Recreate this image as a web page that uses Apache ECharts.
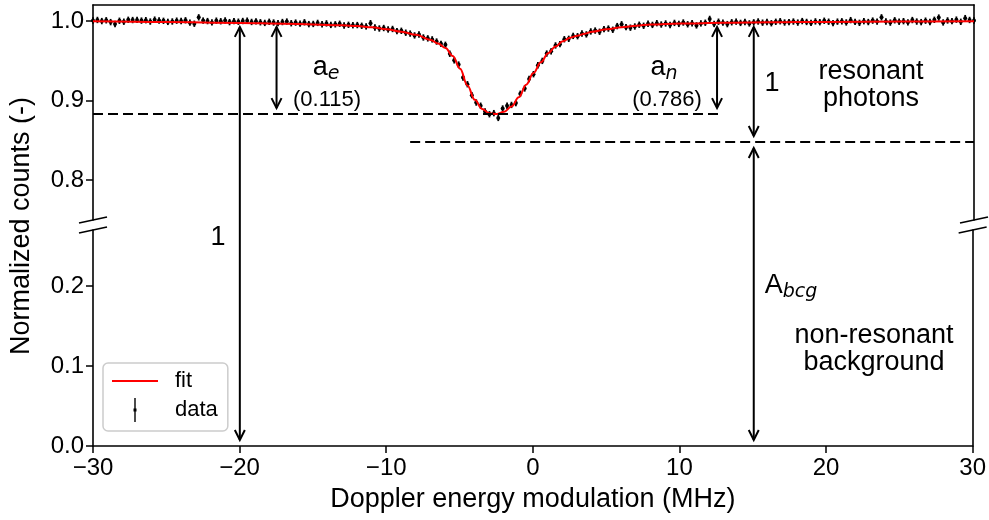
<!DOCTYPE html>
<html>
<head>
<meta charset="utf-8">
<script src="https://cdn.jsdelivr.net/npm/echarts@6/dist/echarts.min.js"></script>
<style>
html, body { margin: 0; padding: 0; background: #fff; }
#main { width: 989px; height: 520px; }
</style>
</head>
<body>
<div id="main"></div>
<script>
var FONT = 'Liberation Sans, Arial, sans-serif';
var MATH = 'DejaVu Sans, sans-serif';

// measured points, x = dataStart + i * dataStep
var dataStart = -30, dataStep = 0.3;
var dataErr = 0.004;
var dataY = [
	1.0005, 1.0012, 0.9998, 1.0008, 0.9985, 0.9962, 1.0002, 0.9990, 1.0014, 1.0011,
	1.0013, 1.0004, 1.0009, 0.9992, 1.0016, 1.0005, 1.0001, 0.9988, 0.9993, 1.0003,
	0.9999, 1.0008, 0.9978, 0.9965, 1.0045, 1.0004, 0.9998, 0.9981, 1.0003, 0.9996,
	1.0006, 0.9985, 0.9997, 0.9990, 0.9999, 1.0003, 0.9987, 0.9995, 0.9983, 0.9975,
	0.9989, 0.9980, 0.9972, 0.9986, 0.9992, 0.9971, 0.9979, 0.9966, 0.9983, 0.9960,
	0.9962, 0.9975, 0.9958, 0.9969, 0.9950, 0.9957, 0.9964, 0.9942, 0.9951, 0.9946,
	0.9948, 0.9939, 0.9931, 0.9972, 0.9918, 0.9905, 0.9911, 0.9893, 0.9899, 0.9872,
	0.9876, 0.9852, 0.9841, 0.9818, 0.9829, 0.9792, 0.9781, 0.9768, 0.9741, 0.9712,
	0.9700, 0.9588, 0.9505, 0.9452, 0.9290, 0.9205, 0.9068, 0.8975, 0.8935, 0.8862,
	0.8828, 0.8842, 0.8782, 0.8900, 0.8935, 0.8945, 0.8968, 0.9085, 0.9152, 0.9270,
	0.9331, 0.9443, 0.9498, 0.9590, 0.9618, 0.9692, 0.9708, 0.9770, 0.9775, 0.9812,
	0.9808, 0.9842, 0.9831, 0.9868, 0.9879, 0.9864, 0.9897, 0.9904, 0.9889, 0.9935,
	0.9958, 0.9922, 0.9915, 0.9930, 0.9952, 0.9939, 0.9965, 0.9950, 0.9972, 0.9955,
	0.9968, 0.9949, 0.9975, 0.9963, 0.9980, 0.9958, 0.9971, 0.9944, 0.9969, 0.9977,
	1.0025, 0.9962, 0.9990, 0.9978, 0.9960, 0.9983, 0.9991, 0.9975, 0.9986, 0.9969,
	0.9982, 0.9993, 0.9978, 0.9987, 0.9971, 0.9989, 0.9996, 0.9980, 0.9985, 0.9992,
	0.9979, 0.9998, 0.9987, 0.9975, 0.9994, 0.9984, 1.0002, 0.9990, 0.9973, 0.9991,
	0.9995, 0.9981, 1.0010, 0.9988, 0.9976, 0.9997, 0.9986, 1.0004, 0.9992, 1.0045,
	0.9993, 0.9979, 1.0008, 0.9990, 0.9997, 0.9982, 1.0011, 0.9992, 0.9985, 1.0003,
	0.9987, 1.0014, 1.0042, 0.9981, 1.0006, 0.9997, 1.0016, 0.9989, 1.0035, 1.0012, 1.0006
];

// fitted curve
var fitX = [-30, -25, -20, -17, -15, -13, -12, -11, -10, -9,
	-8, -7, -6.5, -6, -5.5, -5, -4.5, -4, -3.5, -3,
	-2.5, -2, -1.5, -1, -0.5, 0, 0.5, 1, 1.5, 2,
	2.5, 3, 3.5, 4, 5, 6, 7, 8, 10, 13,
	16, 20, 25, 30];
var fitY = [0.9995, 0.9985, 0.9975, 0.9965, 0.9955, 0.9945, 0.9935, 0.9920, 0.9895, 0.9865,
	0.9825, 0.9760, 0.9715, 0.9660, 0.9560, 0.9400, 0.9190, 0.9010, 0.8895, 0.8840,
	0.8830, 0.8860, 0.8925, 0.9040, 0.9200, 0.9345, 0.9480, 0.9595, 0.9680, 0.9745,
	0.9790, 0.9815, 0.9840, 0.9865, 0.9895, 0.9920, 0.9940, 0.9955, 0.9968, 0.9976,
	0.9982, 0.9988, 0.9993, 0.9996];

var yTicksTop = [0.8, 0.9, 1.0];
var yTicksBottom = [0, 0.1, 0.2];

// annotations in data units
var dashLines = [[-30, 12.6, 0.883], [-8.4, 30, 0.848]]; // xFrom, xTo, y
var arrows = [[-20, 1.0, 0.0], [-17.5, 1.0, 0.883], [12.5, 1.0, 0.883], [15, 1.0, 0.848], [15, 0.848, 0.0]];

var dataPts = [];
for(var i = 0; i < dataY.length; i++) {
	dataPts.push([dataStart + i * dataStep, dataY[i]]);
}
var fitPts = [];
for(var j = 0; j < fitX.length; j++) {
	fitPts.push([fitX[j], fitY[j]]);
}

function renderErr(params, api) {
	var x = api.value(0), y = api.value(1);
	var top = api.coord([x, y + dataErr]);
	var bot = api.coord([x, y - dataErr]);
	var c = api.coord([x, y]);
	return {
		type: 'group',
		children: [{
			type: 'line',
			shape: { x1: top[0], y1: top[1], x2: bot[0], y2: bot[1] },
			style: { stroke: '#000', lineWidth: 1.8 }
		}, {
			type: 'circle',
			shape: { cx: c[0], cy: c[1], r: 2 },
			style: { fill: '#000' }
		}]
	};
}

function yAxisLeft(grid, min, max, ticks) {
	return {
		type: 'value', gridIndex: grid, position: 'left', min: min, max: max,
		axisLine: { show: true, onZero: false, lineStyle: { color: '#000', width: 1.6 } },
		axisTick: { show: true, length: 7, customValues: ticks, lineStyle: { color: '#000', width: 1.5 } },
		axisLabel: {
			customValues: ticks, margin: 9, color: '#000', fontSize: 24, fontFamily: FONT,
			formatter: function(v) { return v.toFixed(1); }
		},
		splitLine: { show: false }
	};
}

function yAxisRight(grid, min, max) {
	return {
		type: 'value', gridIndex: grid, position: 'right', min: min, max: max,
		axisLine: { show: true, onZero: false, lineStyle: { color: '#000', width: 1.6 } },
		axisTick: { show: false }, axisLabel: { show: false }, splitLine: { show: false }
	};
}

var chart = echarts.init(document.getElementById('main'));
chart.setOption({
	animation: false,
	backgroundColor: '#fff',
	grid: [
		{ left: 93, right: 15, top: 5, height: 215 },
		{ left: 93, right: 15, top: 230, height: 216 }
	],
	xAxis: [{
		type: 'value', gridIndex: 0, position: 'top', min: -30, max: 30,
		axisLine: { show: true, onZero: false, lineStyle: { color: '#000', width: 1.6 } },
		axisTick: { show: false }, axisLabel: { show: false }, splitLine: { show: false }
	}, {
		type: 'value', gridIndex: 1, position: 'bottom', min: -30, max: 30, interval: 10,
		name: 'Doppler energy modulation (MHz)', nameLocation: 'middle', nameGap: 40,
		nameTextStyle: { color: '#000', fontSize: 27, fontFamily: FONT },
		axisLine: { show: true, onZero: false, lineStyle: { color: '#000', width: 1.6 } },
		axisTick: { show: true, length: 7, lineStyle: { color: '#000', width: 1.5 } },
		axisLabel: {
			margin: 10, color: '#000', fontSize: 24, fontFamily: FONT,
			formatter: function(v) { return String(v).replace('-', '\u2212'); }
		},
		splitLine: { show: false }
	}],
	yAxis: [
		yAxisLeft(0, 0.75, 1.02, yTicksTop),
		yAxisRight(0, 0.75, 1.02),
		yAxisLeft(1, 0, 0.27, yTicksBottom),
		yAxisRight(1, 0, 0.27)
	],
	legend: {
		orient: 'vertical', left: 103, top: 363,
		itemWidth: 46, itemHeight: 24, itemGap: 6,
		padding: [7, 10, 9, 9],
		borderColor: '#cccccc', borderWidth: 1.5, borderRadius: 5,
		backgroundColor: 'rgba(255,255,255,0.8)',
		textStyle: { color: '#000', fontSize: 22, fontFamily: FONT, padding: [0, 0, 0, 12] },
		data: [
			{ name: 'fit', icon: 'path://M0,0 h46 v2 h-46 z' },
			{ name: 'data', icon: 'path://M1.3,0 h1.4 v24 h-1.4 z M0.5,10.5 h3 v3 h-3 z' }
		]
	},
	series: [{
		name: 'data', type: 'custom', xAxisIndex: 0, yAxisIndex: 0,
		itemStyle: { color: '#000' },
		renderItem: renderErr, data: dataPts, z: 2
	}, {
		name: 'fit', type: 'line', xAxisIndex: 0, yAxisIndex: 0,
		data: fitPts, showSymbol: false, smooth: 0.4, smoothMonotone: 'x',
		itemStyle: { color: '#ff0000' },
		lineStyle: { color: '#ff0000', width: 2 }, z: 3
	}]
});

function px(x, y) {
	if(y >= 0.75) {
		return chart.convertToPixel({ gridIndex: 0 }, [x, y]);
	}
	return chart.convertToPixel({ gridIndex: 1 }, [x, y]);
}

var els = [];
var ink = { stroke: '#000', lineWidth: 2, fill: null };

dashLines.forEach(function(d) {
	var a = px(d[0], d[2]), b = px(d[1], d[2]);
	els.push({ type: 'line', z: 100, shape: { x1: a[0], y1: a[1], x2: b[0], y2: b[1] },
		style: { stroke: '#000', lineWidth: 2, lineDash: [10, 5] } });
});

arrows.forEach(function(r) {
	var a = px(r[0], r[1]), b = px(r[0], r[2]);
	var s = 6, hl = 10, hw = 5;
	var t = a[1] + s, u = b[1] - s, x = a[0];
	els.push({ type: 'line', z: 100, shape: { x1: x, y1: t, x2: x, y2: u }, style: ink });
	els.push({ type: 'polyline', z: 100, shape: { points: [[x - hw, t + hl], [x, t], [x + hw, t + hl]] }, style: ink });
	els.push({ type: 'polyline', z: 100, shape: { points: [[x - hw, u - hl], [x, u], [x + hw, u - hl]] }, style: ink });
});

// break marks on both spines
[[-30, 0.75], [30, 0.75], [-30, 0.27], [30, 0.27]].forEach(function(p) {
	var c = px(p[0], p[1]);
	els.push({ type: 'line', z: 100, shape: { x1: c[0] - 14, y1: c[1] + 3, x2: c[0] + 14, y2: c[1] - 3 },
		style: { stroke: '#000', lineWidth: 1.6 } });
});

function txt(x, y, text, size, extra) {
	var st = { text: text, fill: '#000', font: size + 'px ' + FONT, align: 'center', verticalAlign: 'middle' };
	if(extra) {
		for(var k in extra) st[k] = extra[k];
	}
	return { type: 'text', z: 101, x: x, y: y, style: st };
}

var subRich = {
	m: { font: '27px ' + FONT, fill: '#000' },
	s: { font: 'italic 19px ' + MATH, fill: '#000', padding: [12, 0, 0, 0] }
};

els.push(txt(326, 68, '{m|a}{s|e}', 27, { rich: subRich }));
els.push(txt(327, 100, '(0.115)', 22));
els.push(txt(664, 68, '{m|a}{s|n}', 27, { rich: subRich }));
els.push(txt(667, 100, '(0.786)', 22));
els.push(txt(772, 84, '1', 27));
els.push(txt(218, 238, '1', 27));
els.push(txt(791, 286, '{m|A}{s|bcg}', 27, { rich: subRich }));
els.push(txt(871, 85, 'resonant\nphotons', 27, { lineHeight: 27 }));
els.push(txt(874, 349, 'non-resonant\nbackground', 27, { lineHeight: 27 }));
els.push({ type: 'text', z: 101, x: 22, y: 226, rotation: Math.PI / 2,
	style: { text: 'Normalized counts (-)', fill: '#000', font: '27px ' + FONT, align: 'center', verticalAlign: 'middle' } });

chart.setOption({ graphic: els });
</script>
</body>
</html>
